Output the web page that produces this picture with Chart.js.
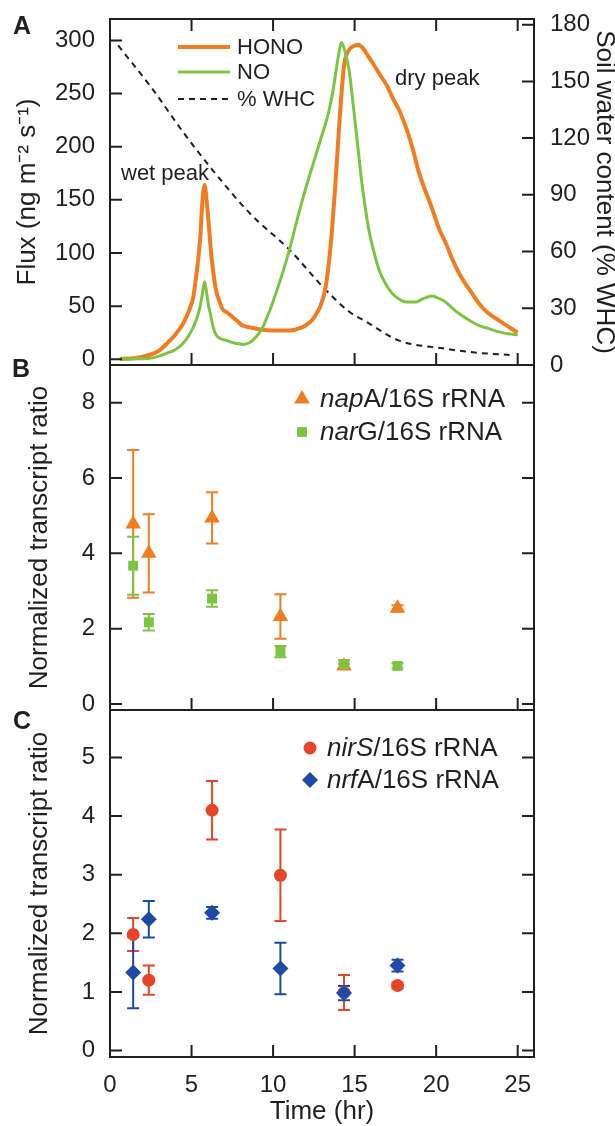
<!DOCTYPE html>
<html>
<head>
<meta charset="utf-8">
<script src="https://cdn.jsdelivr.net/npm/chart.js@4"></script>
<style>
  body { margin: 0; background: #fff; width: 615px; height: 1126px; position: relative; overflow: hidden; }
  canvas { position: absolute; left: 0; }
</style>
</head>
<body>
<canvas id="chartA" width="615" height="380" style="top:0px"></canvas>
<canvas id="chartB" width="615" height="370" style="top:355px"></canvas>
<canvas id="chartC" width="615" height="426" style="top:700px"></canvas>
<script>
// ---- panel A: fluxes and soil water ----
const honoTime = [0.6, 1.5, 2.4, 3.0, 3.5, 4.0, 4.5, 4.9, 5.1, 5.3, 5.45, 5.55, 5.65, 5.8, 5.95, 6.05, 6.2, 6.35, 6.5, 6.7, 6.9, 7.2, 7.5, 7.8, 8.1, 8.6, 9.2, 10.0, 10.5, 11.0, 11.6, 12.0, 12.4, 12.7, 12.9, 13.2, 13.4, 13.6, 13.8, 14.05, 14.35, 14.65, 15.0, 15.2, 15.5, 15.8, 16.1, 16.5, 17.0, 17.3, 17.8, 18.2, 18.6, 18.9, 19.3, 19.7, 20.2, 20.6, 21.0, 21.4, 21.8, 22.2, 22.6, 23.0, 23.4, 23.8, 24.4, 25.0];
const honoFlux = [0.5, 1, 4, 8, 15, 23, 34, 48, 58, 80, 100, 118, 145, 164, 145, 128, 100, 80, 65, 55, 47, 44, 40, 36, 32, 30, 28, 27, 27, 27, 29, 32, 37, 44, 50, 66, 88, 119, 160, 219, 276, 291, 295, 296, 293, 286, 279, 269, 257, 247, 232, 216, 196, 178, 160, 144, 122, 109, 94, 81, 71, 62, 53, 46, 41, 37, 31, 25];

const noTime = [0.6, 1.5, 2.44, 3.0, 3.46, 4.0, 4.48, 4.9, 5.29, 5.5, 5.65, 5.8, 5.95, 6.05, 6.15, 6.3, 6.45, 6.7, 7.17, 7.7, 8.14, 8.6, 8.95, 9.3, 9.56, 9.85, 10.17, 10.6, 11.0, 11.4, 11.8, 12.2, 12.6, 13.0, 13.4, 13.7, 14.0, 14.2, 14.4, 14.65, 15.06, 15.47, 15.87, 16.2, 16.5, 16.9, 17.3, 17.7, 18.16, 18.77, 19.2, 19.74, 20.2, 20.56, 21.0, 21.4, 22.0, 22.6, 23.2, 23.8, 24.4, 25.0];
const noFlux = [0, 0.5, 1, 3, 5.6, 9, 15, 24, 37, 48, 60, 73, 60, 50, 43, 32, 24.5, 20, 17.5, 15, 14, 16, 21, 28, 37, 48, 62, 82, 103, 127, 150, 171, 191, 211, 232, 255, 285, 298, 290, 273, 219, 163, 122, 100, 84, 71, 62, 57, 54, 54, 57, 59.6, 57, 54, 48, 43, 37, 32, 29, 26, 24, 23];

const whcTime = [0.5, 2.6, 4.5, 6.3, 8.6, 11.0, 13.2, 14.7, 15.7, 17.7, 20.4, 22.5, 24.5];
const whcPct = [169, 146, 123, 103, 80, 61, 40, 28, 23, 13, 8.8, 6.5, 5.3];

// ---- panels B and C: transcripts ----
const sampleTime = [1.42, 2.38, 6.26, 10.45, 14.35, 17.63];
const napA = [4.78, 4.0, 4.94, 2.32, 1.01, 2.54];
const napAErr = [1.96, 1.04, 0.68, 0.59, 0.05, 0.08];
const narG = [3.67, 2.17, 2.8, 1.39, 1.06, 1.01];
const narGErr = [0.77, 0.22, 0.22, 0.15, 0.1, 0.07];
const nirS = [1.98, 1.2, 4.1, 2.99, 0.99, 1.11];
const nirSErr = [0.28, 0.25, 0.5, 0.78, 0.3, 0.05];
const nrfA = [1.33, 2.24, 2.35, 1.4, 0.98, 1.45];
const nrfAErr = [0.61, 0.31, 0.1, 0.44, 0.12, 0.1];

const timeTicks = [0, 5, 10, 15, 20, 25];
const fluxTicks = [0, 50, 100, 150, 200, 250, 300];
const whcTicks = [0, 30, 60, 90, 120, 150, 180];
const ratioTicksB = [0, 2, 4, 6, 8];
const ratioTicksC = [0, 1, 2, 3, 4, 5];

const ink = '#231f20';
const orange = '#f07d22';
const green = '#7ec343';
const red = '#e8432b';
const blue = '#1f49a4';
const family = '"Liberation Sans", Arial, Helvetica, sans-serif';

Chart.defaults.color = ink;
Chart.defaults.font.family = family;
Chart.defaults.animation = false;

function pts(xs, ys) {
  return xs.map((x, i) => ({ x: x, y: ys[i] }));
}

// frame with inward ticks
const frameTicks = {
  id: 'frameTicks',
  afterDraw(chart, args, opts) {
    const { ctx, chartArea: a, scales } = chart;
    const len = 12;
    ctx.save();
    ctx.strokeStyle = ink;
    ctx.lineWidth = 2;
    ctx.beginPath();
    scales.x.ticks.forEach(t => {
      const px = scales.x.getPixelForValue(t.value);
      ctx.moveTo(px, a.bottom); ctx.lineTo(px, a.bottom - len);
      if (opts.topTicks) { ctx.moveTo(px, a.top); ctx.lineTo(px, a.top + len); }
    });
    scales.y.ticks.forEach(t => {
      const py = scales.y.getPixelForValue(t.value);
      ctx.moveTo(a.left, py); ctx.lineTo(a.left + len, py);
      if (!scales.y2) { ctx.moveTo(a.right, py); ctx.lineTo(a.right - len, py); }
    });
    if (scales.y2) {
      scales.y2.ticks.forEach(t => {
        const py = scales.y2.getPixelForValue(t.value);
        ctx.moveTo(a.right, py); ctx.lineTo(a.right - len, py);
      });
    }
    ctx.stroke();
    ctx.strokeRect(a.left, a.top, a.right - a.left, a.bottom - a.top);
    ctx.restore();
  }
};

const errorBars = {
  id: 'errorBars',
  beforeDatasetsDraw(chart) {
    const { ctx } = chart;
    const ys = chart.scales.y;
    chart.data.datasets.forEach((ds, i) => {
      if (!ds.errors) return;
      const meta = chart.getDatasetMeta(i);
      ctx.save();
      ctx.strokeStyle = ds.backgroundColor;
      ctx.lineWidth = 2;
      meta.data.forEach((pt, j) => {
        const v = ds.data[j].y, e = ds.errors[j];
        const top = ys.getPixelForValue(v + e), bot = ys.getPixelForValue(v - e);
        ctx.beginPath();
        ctx.moveTo(pt.x, top); ctx.lineTo(pt.x, bot);
        ctx.moveTo(pt.x - 6, top); ctx.lineTo(pt.x + 6, top);
        ctx.moveTo(pt.x - 6, bot); ctx.lineTo(pt.x + 6, bot);
        ctx.stroke();
      });
      ctx.restore();
    });
  }
};

// panel letters, notes and the hand-placed legends
const extras = {
  id: 'extras',
  afterDraw(chart, args, opts) {
    const { ctx } = chart;
    ctx.save();
    ctx.fillStyle = ink;
    ctx.textBaseline = 'middle';
    ctx.font = 'bold 25px ' + family;
    ctx.textAlign = 'left';
    ctx.fillText(opts.letter, opts.letterPos[0], opts.letterPos[1]);
    (opts.notes || []).forEach(n => {
      ctx.font = '22px ' + family;
      ctx.fillText(n.text, n.x, n.y);
    });
    (opts.lineLegend || []).forEach(item => {
      const ds = chart.data.datasets[item.ds];
      ctx.strokeStyle = ds.borderColor;
      ctx.lineWidth = ds.borderWidth;
      ctx.setLineDash(ds.borderDash || []);
      ctx.beginPath();
      ctx.moveTo(item.x, item.y); ctx.lineTo(item.x + 52, item.y);
      ctx.stroke();
      ctx.setLineDash([]);
      ctx.font = '22px ' + family;
      ctx.fillStyle = ink;
      ctx.fillText(ds.label, item.x + 59, item.y + 1);
    });
    (opts.markerLegend || []).forEach(item => {
      const ds = chart.data.datasets[item.ds];
      ctx.fillStyle = ds.backgroundColor;
      ctx.strokeStyle = ds.backgroundColor;
      Chart.helpers.drawPoint(ctx, { pointStyle: ds.pointStyle, radius: ds.pointRadius, rotation: 0, borderWidth: 0 }, item.x, item.y);
      ctx.fillStyle = ink;
      ctx.font = 'italic 26px ' + family;
      const it = ds.italicPart;
      ctx.fillText(it, item.tx, item.y + 1);
      const w = ctx.measureText(it).width;
      ctx.font = '26px ' + family;
      ctx.fillText(ds.label.slice(it.length), item.tx + w, item.y + 1);
    });
    ctx.restore();
  }
};

const tickFont = { size: 24, family: family };
const titleFont = { size: 26, family: family, lineHeight: 1.2 };

function noOverhang(s) {
  s.paddingTop = 0; s.paddingBottom = 0; s.paddingLeft = 0; s.paddingRight = 0;
}

function timeAxis(showLabels, height) {
  return {
    type: 'linear', min: 0, max: 26,
    grid: { display: false, drawTicks: false }, border: { display: false },
    afterBuildTicks: s => { s.ticks = timeTicks.map(v => ({ value: v })); },
    afterFit: s => { s.height = height; noOverhang(s); },
    ticks: { display: showLabels, font: tickFont, padding: 14, maxRotation: 0 },
    title: { display: showLabels, text: 'Time (hr)', font: { size: 26, family: family, lineHeight: 1.1 }, padding: { top: 0, bottom: 0 } }
  };
}

function leftAxis(min, max, ticks, title, titlePad) {
  return {
    type: 'linear', position: 'left', min: min, max: max,
    grid: { display: false, drawTicks: false }, border: { display: false },
    afterBuildTicks: s => { s.ticks = ticks.map(v => ({ value: v })); },
    afterFit: s => { s.width = 110; noOverhang(s); },
    ticks: { font: tickFont, padding: 15 },
    title: { display: true, text: title, font: titleFont, padding: { top: titlePad, bottom: 0 } }
  };
}

// Panel A
new Chart(document.getElementById('chartA'), {
  type: 'line',
  data: {
    datasets: [
      { label: 'NO', data: pts(noTime, noFlux), borderColor: green, borderWidth: 3, pointRadius: 0, cubicInterpolationMode: 'monotone', yAxisID: 'y' },
      { label: 'HONO', data: pts(honoTime, honoFlux), borderColor: orange, borderWidth: 4, pointRadius: 0, cubicInterpolationMode: 'monotone', yAxisID: 'y' },
      { label: '% WHC', data: pts(whcTime, whcPct), borderColor: ink, borderWidth: 2, borderDash: [6, 5], pointRadius: 0, cubicInterpolationMode: 'monotone', yAxisID: 'y2' }
    ]
  },
  options: {
    responsive: false,
    layout: { padding: { top: 19, bottom: 0, left: 0, right: 0 } },
    scales: {
      x: timeAxis(false, 15),
      y: leftAxis(-5.4, 320.2, fluxTicks, 'Flux (ng m\u207B\u00B2 s\u207B\u00B9)', 12),
      y2: {
        type: 'linear', position: 'right', min: 0, max: 183,
        grid: { display: false, drawTicks: false }, border: { display: false },
        afterBuildTicks: s => { s.ticks = whcTicks.map(v => ({ value: v })); },
        afterFit: s => { s.width = 81; noOverhang(s); },
        ticks: { font: tickFont, padding: 16 },
        title: { display: true, text: 'Soil water content (% WHC)', font: { size: 26, family: family, lineHeight: 0.85 }, padding: { top: 0, bottom: 0 } }
      }
    },
    plugins: {
      legend: { display: false }, tooltip: { enabled: false },
      frameTicks: { topTicks: true },
      extras: {
        letter: 'A', letterPos: [13, 27],
        notes: [{ text: 'wet peak', x: 121, y: 174 }, { text: 'dry peak', x: 395, y: 79 }],
        lineLegend: [{ ds: 1, x: 178, y: 47 }, { ds: 0, x: 178, y: 72 }, { ds: 2, x: 178, y: 99 }]
      }
    }
  },
  plugins: [frameTicks, extras]
});

// Panel B
new Chart(document.getElementById('chartB'), {
  type: 'scatter',
  data: {
    datasets: [
      { label: 'napA/16S rRNA', italicPart: 'nap', order: 1, data: pts(sampleTime, napA), errors: napAErr, backgroundColor: orange, borderWidth: 0, pointStyle: 'triangle', pointRadius: 9 },
      { label: 'narG/16S rRNA', italicPart: 'nar', order: 0, data: pts(sampleTime, narG), errors: narGErr, backgroundColor: green, borderWidth: 0, pointStyle: 'rect', pointRadius: 7 }
    ]
  },
  options: {
    responsive: false,
    layout: { padding: { top: 10, bottom: 0, left: 0, right: 81 } },
    scales: {
      x: timeAxis(false, 15),
      y: leftAxis(-0.16, 9.0, ratioTicksB, 'Normalized transcript ratio', 24)
    },
    plugins: {
      legend: { display: false }, tooltip: { enabled: false },
      frameTicks: { topTicks: false },
      extras: {
        letter: 'B', letterPos: [12, 15],
        markerLegend: [{ ds: 0, x: 302, y: 44, tx: 320 }, { ds: 1, x: 302, y: 77, tx: 320 }]
      }
    }
  },
  plugins: [errorBars, frameTicks, extras]
});

// Panel C
new Chart(document.getElementById('chartC'), {
  type: 'scatter',
  data: {
    datasets: [
      { label: 'nirS/16S rRNA', italicPart: 'nirS', order: 1, data: pts(sampleTime, nirS), errors: nirSErr, backgroundColor: red, borderWidth: 0, pointStyle: 'circle', pointRadius: 6.5 },
      { label: 'nrfA/16S rRNA', italicPart: 'nrf', order: 0, data: pts(sampleTime, nrfA), errors: nrfAErr, backgroundColor: blue, borderWidth: 0, pointStyle: 'rectRot', pointRadius: 8 }
    ]
  },
  options: {
    responsive: false,
    layout: { padding: { top: 10, bottom: 0, left: 0, right: 81 } },
    scales: {
      x: timeAxis(true, 69),
      y: leftAxis(-0.11, 5.81, ratioTicksC, 'Normalized transcript ratio', 24)
    },
    plugins: {
      legend: { display: false }, tooltip: { enabled: false },
      frameTicks: { topTicks: false },
      extras: {
        letter: 'C', letterPos: [13, 22],
        markerLegend: [{ ds: 0, x: 310, y: 48, tx: 327 }, { ds: 1, x: 310, y: 80, tx: 327 }]
      }
    }
  },
  plugins: [errorBars, frameTicks, extras]
});
</script>
</body>
</html>
